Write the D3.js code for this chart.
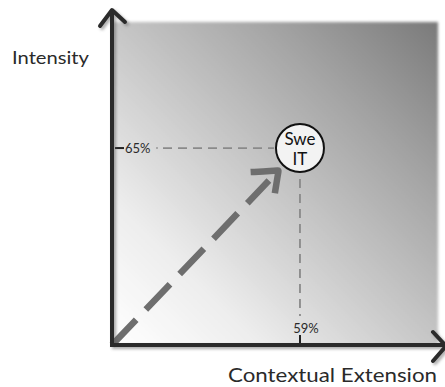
<!DOCTYPE html>
<html>
<head>
<meta charset="utf-8">
<script src="https://cdn.jsdelivr.net/npm/d3@7/dist/d3.min.js"></script>
<style>
  html, body { margin: 0; padding: 0; background: #ffffff; }
  svg { display: block; }
  text { font-family: Lato, "Open Sans", sans-serif; }
</style>
</head>
<body>
<script>
// ---- data ----
const xAxisLabel = "Contextual Extension";
const yAxisLabel = "Intensity";
const pointNames = [["Swe", "IT"]];
const xValues = [59];
const yValues = [65];
const xTickLabels = ["59%"];
const yTickLabels = ["65%"];

const W = 445, H = 387;
const svg = d3.select("body").append("svg").attr("width", W).attr("height", H);
const defs = svg.append("defs");

const x = d3.scaleLinear().domain([0, 100]).range([112, 430.6]);
const y = d3.scaleLinear().domain([0, 100]).range([345, 42]);

// gradient background
const grad = defs.append("linearGradient").attr("id", "bg")
  .attr("x1", "0").attr("y1", "1").attr("x2", "1").attr("y2", "0");
[[0, "#ffffff"], [0.22, "#eeeeee"], [0.5, "#c6c6c6"], [0.75, "#a2a2a2"], [1, "#7a7a7a"]]
  .forEach(([o, c]) => grad.append("stop").attr("offset", o).attr("stop-color", c));
defs.append("filter").attr("id", "soft").attr("x", "-5%").attr("y", "-5%").attr("width", "110%").attr("height", "110%")
  .append("feGaussianBlur").attr("stdDeviation", 1.8);
defs.append("filter").attr("id", "shadow").attr("x", "-20%").attr("y", "-20%").attr("width", "140%").attr("height", "140%")
  .append("feGaussianBlur").attr("stdDeviation", 1.5);

svg.append("rect")
  .attr("x", x(0)).attr("y", 22)
  .attr("width", 438 - x(0)).attr("height", y(0) - 22)
  .attr("fill", "url(#bg)").attr("filter", "url(#soft)");

const g = svg.append("g");

const R = 25;
xValues.forEach((xv, i) => {
  const cx = x(xv), cy = y(yValues[i]);
  // horizontal dashed guide
  g.append("line").attr("x1", 163).attr("x2", cx - R - 1).attr("y1", cy).attr("y2", cy)
    .attr("stroke", "#8a8a8a").attr("stroke-width", 1.8).attr("stroke-dasharray", "9 6");
  g.append("circle").attr("cx", 157).attr("cy", cy).attr("r", 1).attr("fill", "#999");
  // vertical dashed guide
  g.append("line").attr("x1", cx).attr("x2", cx).attr("y1", cy + R + 6).attr("y2", 316)
    .attr("stroke", "#8a8a8a").attr("stroke-width", 1.8).attr("stroke-dasharray", "9 6");
  // ticks
  g.append("line").attr("x1", x(0) + 3).attr("x2", x(0) + 12).attr("y1", cy).attr("y2", cy)
    .attr("stroke", "#222").attr("stroke-width", 2);
  g.append("line").attr("x1", cx).attr("x2", cx).attr("y1", y(0) - 10).attr("y2", y(0))
    .attr("stroke", "#222").attr("stroke-width", 2);
  g.append("text").attr("x", x(0) + 13).attr("y", cy + 5).attr("font-size", 13)
    .attr("fill", "#2a2a2a").text(yTickLabels[i]);
  g.append("text").attr("x", cx + 6).attr("y", 333).attr("font-size", 13)
    .attr("text-anchor", "middle").attr("fill", "#2a2a2a").text(xTickLabels[i]);

  // big dashed arrow from origin
  const ox = x(0), oy = y(0);
  const dx = cx - ox, dy = cy - oy, L = Math.hypot(dx, dy);
  const ux = dx / L, uy = dy / L;
  const tipX = cx - ux * 31, tipY = cy - uy * 31;
  g.append("line").attr("x1", ox).attr("y1", oy)
    .attr("x2", tipX - ux * 14).attr("y2", tipY - uy * 14)
    .attr("stroke", "#6e6e6e").attr("stroke-width", 6.5).attr("stroke-dasharray", "35 14");
  const back = Math.atan2(-uy, -ux);
  const a1 = back + 0.75, a2 = back - 0.6;
  const head = d3.line().curve(d3.curveBasis)([
    [tipX + Math.cos(a1) * 28, tipY + Math.sin(a1) * 28],
    [tipX + Math.cos(a1) * 6, tipY + Math.sin(a1) * 6],
    [tipX, tipY],
    [tipX, tipY],
    [tipX + Math.cos(a2) * 6, tipY + Math.sin(a2) * 6],
    [tipX + Math.cos(a2) * 23, tipY + Math.sin(a2) * 23]
  ]);
  g.append("path").attr("d", head).attr("fill", "none")
    .attr("stroke", "#6e6e6e").attr("stroke-width", 6.5).attr("stroke-linejoin", "round");

  // bubble
  g.append("circle").attr("cx", cx).attr("cy", cy).attr("r", R - 1)
    .attr("fill", "#f3f3f3").attr("stroke", "#111").attr("stroke-width", 2);
  g.append("text").attr("x", cx).attr("y", cy - 3).attr("text-anchor", "middle")
    .attr("font-size", 17).attr("fill", "#111").text(pointNames[i][0]);
  g.append("text").attr("x", cx).attr("y", cy + 17).attr("text-anchor", "middle")
    .attr("font-size", 17).attr("fill", "#111").text(pointNames[i][1]);
});

// axes (hand-drawn look with shadow)
function axisPaths(sel, color, sw) {
  sel.append("path").attr("d", d3.line()([[x(0), y(0)], [x(0), 11]]))
    .attr("stroke", color).attr("stroke-width", sw).attr("fill", "none");
  sel.append("path").attr("d", d3.line()([[100, 26], [x(0), 10], [125, 22]]))
    .attr("stroke", color).attr("stroke-width", sw).attr("fill", "none")
    .attr("stroke-linejoin", "round").attr("stroke-linecap", "round");
  sel.append("path").attr("d", d3.line()([[x(0) - 2, y(0)], [444, y(0)]]))
    .attr("stroke", color).attr("stroke-width", sw).attr("fill", "none");
  sel.append("path").attr("d", d3.line()([[433, 332], [446, 346], [433, 361]]))
    .attr("stroke", color).attr("stroke-width", sw).attr("fill", "none")
    .attr("stroke-linejoin", "round").attr("stroke-linecap", "round");
}
const sh = svg.append("g").attr("transform", "translate(2,2)").attr("filter", "url(#shadow)").attr("opacity", 0.5);
axisPaths(sh, "#555", 4);
axisPaths(svg.append("g"), "#2b2b2b", 4);

// axis titles
svg.append("text").attr("x", 12).attr("y", 64).attr("font-size", 18)
  .attr("textLength", 77).attr("lengthAdjust", "spacingAndGlyphs")
  .attr("fill", "#2a2a2a").text(yAxisLabel);
svg.append("text").attr("x", 228).attr("y", 382).attr("font-size", 19)
  .attr("textLength", 209).attr("lengthAdjust", "spacingAndGlyphs")
  .attr("fill", "#2a2a2a").text(xAxisLabel);
</script>
</body>
</html>
